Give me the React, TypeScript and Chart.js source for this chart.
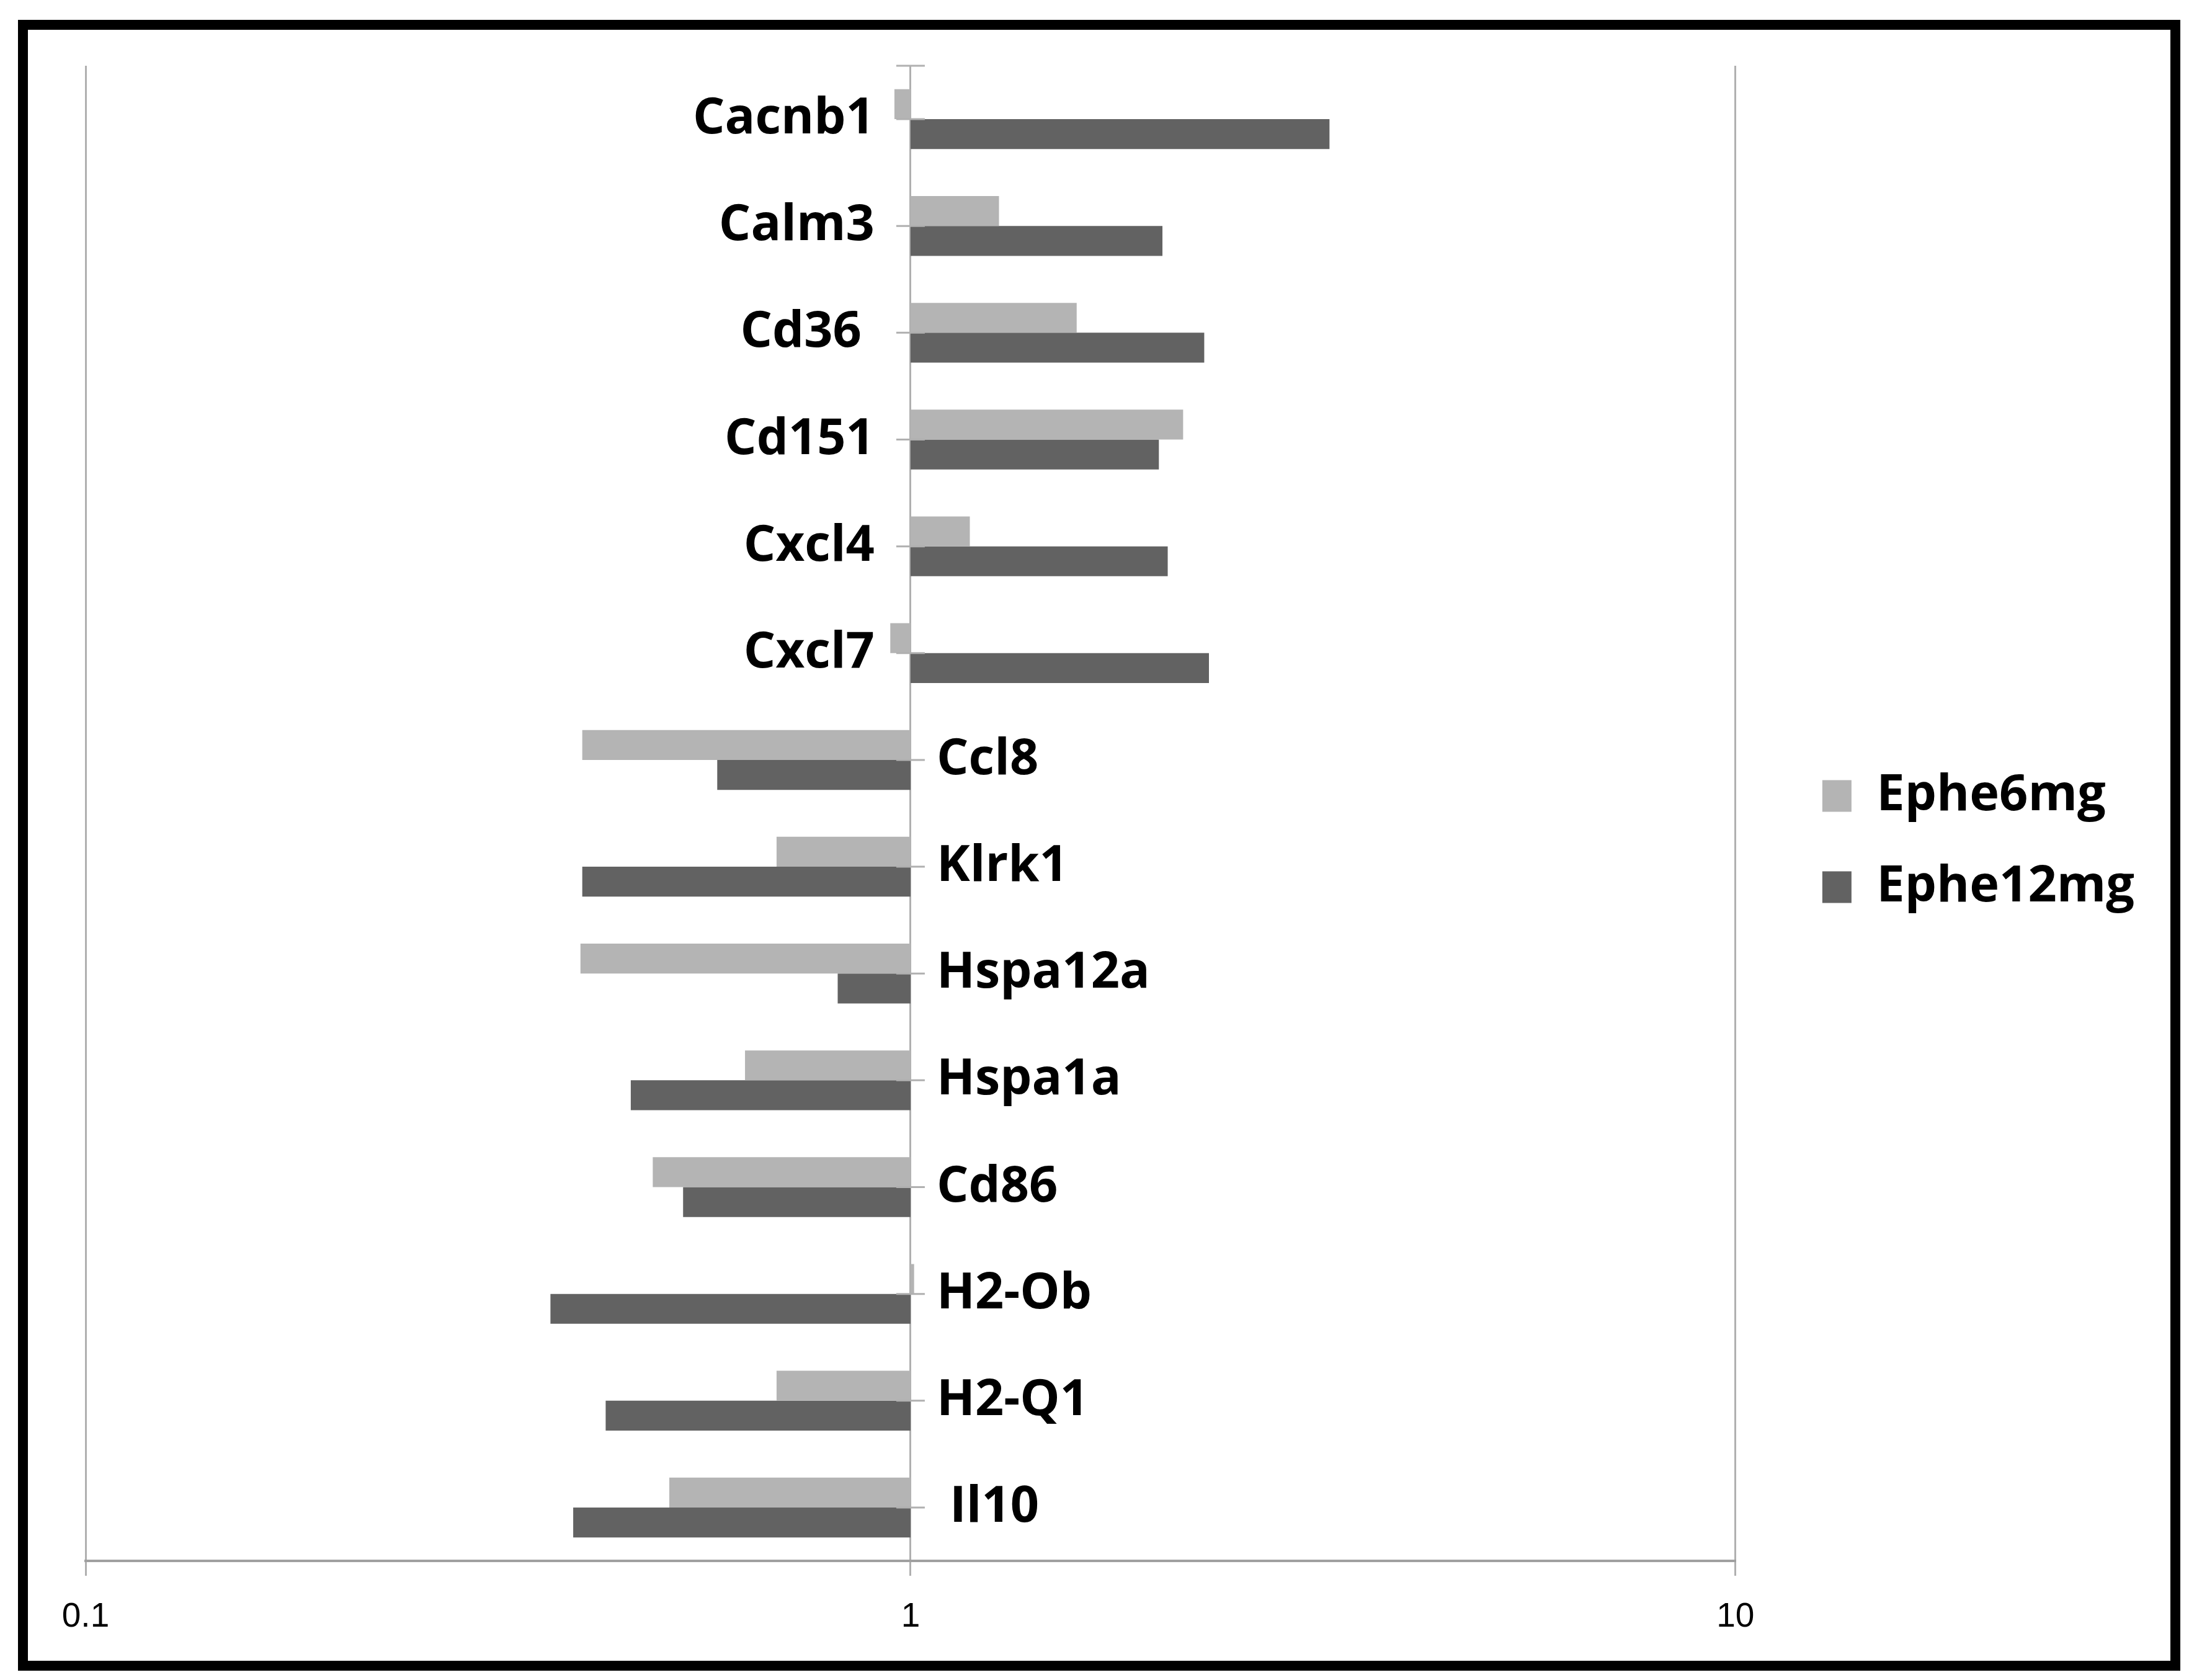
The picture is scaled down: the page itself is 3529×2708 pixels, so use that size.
import React, { useEffect, useRef } from "react";
import { Chart, registerables } from "chart.js";

Chart.register(...registerables);

// ---- data ----
const genes = [
  "Cacnb1",
  "Calm3",
  "Cd36 ",
  "Cd151",
  "Cxcl4",
  "Cxcl7",
  "Ccl8",
  "Klrk1",
  "Hspa12a",
  "Hspa1a",
  "Cd86",
  "H2-Ob",
  "H2-Q1",
  " Il10",
];
const ephe6mg = [0.956, 1.28, 1.59, 2.14, 1.18, 0.945, 0.4, 0.688, 0.398, 0.63, 0.487, 1.01, 0.688, 0.51];
const ephe12mg = [3.22, 2.02, 2.27, 2.0, 2.05, 2.3, 0.583, 0.4, 0.816, 0.458, 0.53, 0.366, 0.427, 0.39];
const seriesNames = ["Ephe6mg", "Ephe12mg"];
const xTickValues = [0.1, 1, 10];
const baseline = 1;

const W = 3529;
const H = 2708;
const LABEL_FONT = 'bold 81px "Open Sans", "Noto Sans", sans-serif';
const GRID = "#b0b0b0";

const framePlugin = {
  id: "frame",
  beforeDraw(chart: any) {
    const ctx = chart.ctx;
    ctx.save();
    ctx.fillStyle = "#ffffff";
    ctx.fillRect(0, 0, chart.width, chart.height);
    ctx.restore();
  },
  afterDraw(chart: any) {
    const ctx = chart.ctx;
    ctx.save();
    ctx.strokeStyle = "#000000";
    ctx.lineWidth = 16;
    ctx.strokeRect(37, 40, 3470, 2645);
    ctx.restore();
  },
};

const geneLabelPlugin = {
  id: "geneLabels",
  afterDatasetsDraw(chart: any) {
    const ctx = chart.ctx;
    const xs = chart.scales.x;
    const ys = chart.scales.y;
    const x1 = xs.getPixelForValue(baseline);
    ctx.save();
    // cross tick marks on the category axis at x = 1
    ctx.strokeStyle = GRID;
    ctx.lineWidth = 3;
    ctx.beginPath();
    ctx.moveTo(x1 - 23, chart.chartArea.top);
    ctx.lineTo(x1 + 23, chart.chartArea.top);
    genes.forEach((_, i) => {
      const y = ys.getPixelForValue(i);
      ctx.moveTo(x1 - 23, y);
      ctx.lineTo(x1 + 23, y);
    });
    ctx.stroke();
    // gene labels
    ctx.fillStyle = "#000000";
    ctx.font = LABEL_FONT;
    ctx.textBaseline = "middle";
    genes.forEach((g, i) => {
      const y = ys.getPixelForValue(i);
      const onLeft = ephe12mg[i] > baseline;
      ctx.textAlign = onLeft ? "right" : "left";
      ctx.fillText(g, onLeft ? x1 - 58 : x1 + 42, y);
    });
    ctx.restore();
  },
};

export default function App() {
  const ref = useRef<HTMLCanvasElement | null>(null);

  useEffect(() => {
    if (!ref.current) return;
    const chart = new Chart(ref.current, {
      type: "bar",
      data: {
        labels: genes,
        datasets: [
          {
            label: seriesNames[0],
            data: ephe6mg.map((v) => [baseline, v]) as any,
            backgroundColor: "#b4b4b4",
            borderWidth: 0,
            categoryPercentage: 0.56,
            barPercentage: 1.0,
            xAxisID: "x",
            yAxisID: "y",
          },
          {
            label: seriesNames[1],
            data: ephe12mg.map((v) => [baseline, v]) as any,
            backgroundColor: "#626262",
            borderWidth: 0,
            categoryPercentage: 0.56,
            barPercentage: 1.0,
            xAxisID: "x",
            yAxisID: "y",
          },
        ],
      },
      options: {
        indexAxis: "y",
        animation: false,
        responsive: false,
        maintainAspectRatio: false,
        layout: { padding: { top: 69, left: 138, right: 78, bottom: 64 } },
        plugins: {
          legend: {
            position: "right",
            align: "center",
            labels: {
              boxWidth: 47,
              boxHeight: 51,
              padding: 66,
              color: "#000000",
              font: { family: '"Open Sans", "Noto Sans", sans-serif', size: 81, weight: "bold" },
            },
          },
          tooltip: { enabled: false },
        },
        scales: {
          x: {
            type: "logarithmic",
            position: "bottom",
            min: 0.1,
            max: 10,
            afterBuildTicks: (scale: any) => {
              scale.ticks = xTickValues.map((v) => ({ value: v }));
            },
            afterFit: (scale: any) => {
              scale.height = 128;
            },
            ticks: {
              autoSkip: false,
              maxRotation: 0,
              color: "#000000",
              padding: 34,
              font: {
                family: '"Liberation Sans Narrow", "Arial Narrow", "Liberation Sans", Arial, sans-serif',
                size: 55,
              },
              callback: (v: any) => String(v),
            },
            grid: { color: GRID, lineWidth: 3, tickLength: 24, drawTicks: true },
            border: { color: "#a0a0a0", width: 4 },
          },
          xTop: {
            type: "linear",
            position: "top",
            ticks: { display: false },
            grid: { display: false },
            border: { display: false },
            afterFit: (scale: any) => {
              scale.height = 37;
            },
          },
          y: {
            type: "category",
            position: "right",
            ticks: { display: false },
            grid: { display: false },
            border: { display: false },
            afterFit: (scale: any) => {
              scale.width = 74;
            },
          },
        },
      } as any,
      plugins: [framePlugin, geneLabelPlugin],
    });
    return () => chart.destroy();
  }, []);

  return (
    <div style={{ position: "absolute", left: 0, top: 0, width: W, height: H, background: "#fff" }}>
      <canvas ref={ref} width={W} height={H} style={{ display: "block" }} />
    </div>
  );
}
